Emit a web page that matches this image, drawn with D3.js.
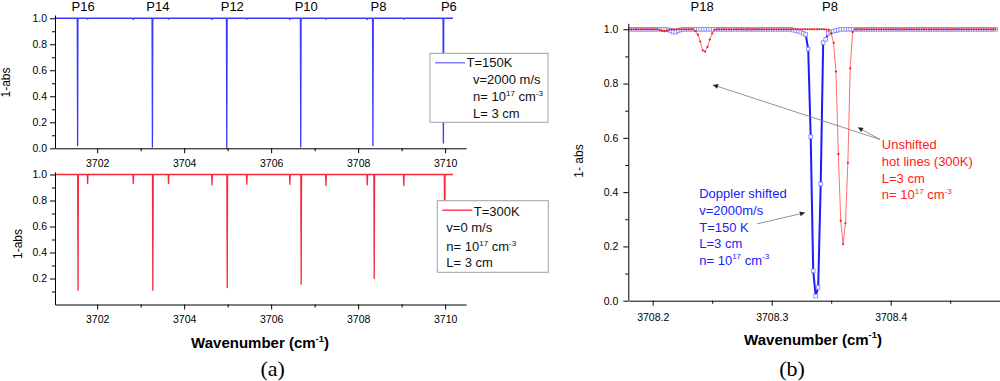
<!DOCTYPE html>
<html>
<head>
<meta charset="utf-8">
<script src="https://cdn.jsdelivr.net/npm/d3@7"></script>
<style>
  body { margin: 0; background: #fff; }
  svg { display: block; font-family: "Liberation Sans", Arial, sans-serif; }
</style>
</head>
<body>
<svg id="fig" width="1000" height="381"></svg>
<script>
// ---------- panel (a) : survey spectra ----------
const lineLabelsA = ["P16", "P14", "P12", "P10", "P8", "P6"];
const coldLineWn  = [3701.55, 3703.27, 3704.98, 3706.68, 3708.34, 3709.96];
const coldLineMin = [0.02, 0.01, 0.0, 0.01, 0.02, 0.04];
const hotMainWn   = [3701.56, 3703.28, 3704.99, 3706.69, 3708.37, 3709.99];
const hotMainMin  = [0.11, 0.11, 0.13, 0.155, 0.20, 0.30];
const hotWeakWn   = [3701.78, 3702.83, 3703.64, 3704.64, 3705.44, 3706.43, 3707.26, 3708.21, 3709.05];
const hotWeakMin  = [0.93, 0.93, 0.93, 0.92, 0.925, 0.925, 0.915, 0.92, 0.915];
const coldWeakMin = [0.993, 0.99, 0.993, 0.99, 0.993, 0.99, 0.993, 0.99, 0.993];
const traceEnds   = [3701.03, 3710.18];
const xTicksA     = [3702, 3704, 3706, 3708, 3710];
const xMinorA     = [3703, 3705, 3707, 3709];

const legendCold = ["T=150K", "v=2000 m/s", "n= 10^{17} cm^{-3}", "L= 3 cm"];
const legendHot  = ["T=300K", "v=0 m/s", "n= 10^{17} cm^{-3}", "L= 3 cm"];

// ---------- panel (b) : zoom on P8 ----------
const lineLabelsB   = ["P18", "P8"];
const lineLabelsBWn = [3708.2415, 3708.349];
// unshifted 300K trace, sampled every 0.002 cm-1 from 3708.18
const hotStart = 3708.18, hotStep = 0.002;
const hotValues = [
  1, 1, 1, 1, 1, 1, 1, 1, 1, 1, 1, 1, 1,
  0.997, 0.994, 0.993, 0.995, 0.998,
  1, 1, 1, 1, 1, 1, 1, 1, 1, 1,
  0.993, 0.98, 0.955, 0.922, 0.918, 0.935, 0.962, 0.985, 0.998,
  1, 1, 1, 1, 1, 1, 1, 1, 1, 1, 1, 1, 1, 1, 1, 1, 1, 1, 1, 1,
  1, 1, 1, 1, 1, 1, 1, 1, 1, 1, 1, 1, 1, 1, 1, 1, 1, 1, 1, 1,
  1, 1, 1, 1, 1, 1, 0.999, 0.998,
  0.985, 0.95, 0.844, 0.54, 0.295, 0.208, 0.285, 0.508, 0.856, 0.99, 1,
  1, 1, 1, 1, 1, 1, 1, 1, 1, 1, 1, 1, 1, 1, 1, 1, 1, 1, 1, 1,
  1, 1, 1, 1, 1, 1, 1, 1, 1, 1, 1, 1, 1, 1, 1, 1, 1, 1, 1, 1,
  1, 1, 1, 1, 1, 1, 1, 1, 1, 1, 1, 1, 1, 1, 1, 1, 1, 1, 1
];
// Doppler shifted 150K trace, sampled every 0.0021 cm-1
const shiftStart = 3708.18157, shiftStep = 0.0021;
const shiftValues = [
  1, 1, 1, 1, 1, 1, 1, 1, 1, 1, 1, 1, 1, 1, 1,
  0.998, 0.995, 0.99, 0.99, 0.995, 0.998,
  1, 1, 1, 1, 1, 1, 1, 1, 1, 1, 1, 1, 1, 1, 1, 1, 1, 1, 1, 1, 1, 1,
  1, 1, 1, 1, 1, 1, 1, 1, 1, 1, 1, 1, 1, 1, 1, 1, 1, 1, 1, 1, 1, 1,
  0.997, 0.995, 0.993, 0.99, 0.985, 0.981, 0.927, 0.604, 0.11, 0.017,
  0.049, 0.43, 0.951, 0.963, 0.985, 0.99, 0.993, 0.995, 0.997,
  1, 1, 1, 1, 1, 1, 1, 1, 1, 1, 1, 1, 1, 1, 1, 1, 1, 1, 1, 1, 1,
  1, 1, 1, 1, 1, 1, 1, 1, 1, 1, 1, 1, 1, 1, 1, 1, 1, 1, 1, 1, 1,
  1, 1, 1, 1, 1, 1, 1, 1, 1, 1, 1, 1, 1, 1, 1, 1, 1, 1, 1, 1, 1
];
const xTicksB = [3708.2, 3708.3, 3708.4];
const xMinorB = [3708.25, 3708.35, 3708.45];
const noteHot   = ["Unshifted", "hot lines (300K)", "L=3 cm", "n= 10^{17} cm^{-3}"];
const noteShift = ["Doppler shifted", "v=2000m/s", "T=150 K", "L=3 cm", "n= 10^{17} cm^{-3}"];

const yMajor = [0, 0.2, 0.4, 0.6, 0.8, 1.0];
const yMinor = [0.1, 0.3, 0.5, 0.7, 0.9];

const svg = d3.select("#fig");
svg.append("rect").attr("width", 1000).attr("height", 381).attr("fill", "#fff");

const FONT = "Liberation Sans, Arial, sans-serif";
const fmt1 = d3.format(".1f");

// writes "abc^{sup}def" as text with superscript tspans
function richText(sel, str, fs) {
  const parts = str.split(/\^\{([^}]*)\}/);
  parts.forEach((p, i) => {
    if (p === "") return;
    const t = sel.append("tspan").text(p);
    if (i % 2 === 1) {
      t.attr("font-size", fs * 0.62).attr("dy", -fs * 0.42);
    } else if (i > 0) {
      t.attr("dy", fs * 0.42);
    }
  });
}

function axisBottom(scale, yPix, major, minor, fmt, pad) {
  const g = svg.append("g").attr("transform", `translate(0,${yPix})`)
    .call(d3.axisBottom(scale).tickValues(major).tickFormat(fmt)
      .tickSize(5).tickSizeOuter(0).tickPadding(pad));
  g.attr("font-family", FONT).attr("font-size", 10.5);
  svg.append("g").attr("transform", `translate(0,${yPix})`)
    .call(d3.axisBottom(scale).tickValues(minor).tickFormat("").tickSize(3))
    .call(a => a.select(".domain").remove());
}

function axisLeft(scale, xPix, major, minor, pad) {
  const g = svg.append("g").attr("transform", `translate(${xPix},0)`)
    .call(d3.axisLeft(scale).tickValues(major).tickFormat(fmt1)
      .tickSize(5).tickSizeOuter(0).tickPadding(pad));
  g.attr("font-family", FONT).attr("font-size", 10.5);
  svg.append("g").attr("transform", `translate(${xPix},0)`)
    .call(d3.axisLeft(scale).tickValues(minor).tickFormat("").tickSize(3))
    .call(a => a.select(".domain").remove());
}

// narrow absorption spikes on a flat baseline of 1
function spectrum(wns, mins) {
  const hw = 0.008;
  const pts = [[traceEnds[0], 1]];
  wns.map((w, i) => ({ w: w, m: mins[i] }))
    .sort((a, b) => a.w - b.w)
    .forEach(d => { pts.push([d.w - hw, 1], [d.w, d.m], [d.w + hw, 1]); });
  pts.push([traceEnds[1], 1]);
  return pts;
}

// ================= panel (a) =================
const xA = d3.scaleLinear().domain([3701.03, 3710.48]).range([55, 466]);
const yTop = d3.scaleLinear().domain([0, 1.025]).range([148.3, 15]);
const yBot = d3.scaleLinear().domain([0, 1.02]).range([304.5, 171.9]);

const coldTrace = spectrum(coldLineWn.concat(hotWeakWn), coldLineMin.concat(coldWeakMin));
const hotTrace = spectrum(hotMainWn.concat(hotWeakWn), hotMainMin.concat(hotWeakMin));

svg.append("path").datum(coldTrace)
  .attr("d", d3.line().x(d => xA(d[0])).y(d => yTop(d[1])))
  .attr("fill", "none").attr("stroke", "#3a3aff").attr("stroke-width", 1.3)
  .attr("stroke-linejoin", "round");

svg.append("path").datum(hotTrace)
  .attr("d", d3.line().x(d => xA(d[0])).y(d => yBot(d[1])))
  .attr("fill", "none").attr("stroke", "#f5283a").attr("stroke-width", 1.3)
  .attr("stroke-linejoin", "round");

axisLeft(yTop, 55, yMajor, yMinor, 3);
axisBottom(xA, 148.3, xTicksA, xMinorA, d3.format("d"), 6);
axisLeft(yBot, 55, yMajor.slice(1), yMinor, 3);
axisBottom(xA, 304.5, xTicksA, xMinorA, d3.format("d"), 6);

svg.selectAll(".lblA").data(lineLabelsA).join("text")
  .attr("class", "lblA")
  .attr("x", (d, i) => xA(coldLineWn[i]) + 5.5).attr("y", 11)
  .attr("text-anchor", "middle").attr("font-size", 13).text(d => d);

// legends
function legend(x0, y0, w, h, color, lines, indent, baselines) {
  const g = svg.append("g");
  g.append("rect").attr("x", x0).attr("y", y0).attr("width", w).attr("height", h)
    .attr("fill", "#fff").attr("stroke", "#a0a0a0").attr("stroke-width", 1);
  g.append("line").attr("x1", x0 + 5).attr("x2", x0 + 35)
    .attr("y1", y0 + 9.5).attr("y2", y0 + 9.5)
    .attr("stroke", color).attr("stroke-width", 1.3);
  lines.forEach((s, i) => {
    const t = g.append("text").attr("x", i === 0 ? x0 + 36.5 : x0 + indent)
      .attr("y", y0 + baselines[i]).attr("font-size", 13).attr("fill", "#111");
    richText(t, s, 13);
  });
}
legend(430, 53.3, 118, 69, "#6a6aff", legendCold, 43, [13.5, 31, 48, 64.5]);
legend(437.3, 200.7, 111, 71.6, "#f5283a", legendHot, 9, [15.5, 31.5, 50.5, 66.5]);

svg.append("text").attr("transform", "translate(10,82.5) rotate(-90)")
  .attr("text-anchor", "middle").attr("font-size", 12).text("1-abs");
svg.append("text").attr("transform", "translate(21.5,244) rotate(-90)")
  .attr("text-anchor", "middle").attr("font-size", 12).text("1-abs");

const titleA = svg.append("text").attr("x", 260).attr("y", 348)
  .attr("text-anchor", "middle").attr("font-size", 15).attr("font-weight", "bold");
richText(titleA, "Wavenumber (cm^{-1})", 15);

svg.append("text").attr("x", 272.7).attr("y", 376).attr("text-anchor", "middle")
  .attr("font-family", "Liberation Serif, Times New Roman, serif").attr("font-size", 22)
  .text("(a)");

// ================= panel (b) =================
const xB = d3.scaleLinear().domain([3708.18, 3708.5]).range([628.9, 1009.7]);
const yB = d3.scaleLinear().domain([0, 1.022]).range([300.7, 23.3]);

const hotPts = hotValues.map((v, i) => [hotStart + i * hotStep, v]);
const shiftPts = shiftValues.map((v, i) => [shiftStart + i * shiftStep, v]);
const lineB = d3.line().x(d => xB(d[0])).y(d => yB(d[1]));

svg.append("path").datum(shiftPts).attr("d", lineB)
  .attr("fill", "none").attr("stroke", "#1c1cff").attr("stroke-width", 2);
svg.selectAll(".sq").data(shiftPts).join("rect").attr("class", "sq")
  .attr("x", d => xB(d[0]) - 1.8).attr("y", d => yB(d[1]) - 1.8)
  .attr("width", 3.6).attr("height", 3.6)
  .attr("fill", "#fff").attr("stroke", "#8c8cff").attr("stroke-width", 0.9);

svg.append("path").datum(hotPts).attr("d", lineB)
  .attr("fill", "none").attr("stroke", "#ff6f6f").attr("stroke-width", 1);
svg.selectAll(".dot").data(hotPts).join("circle").attr("class", "dot")
  .attr("cx", d => xB(d[0])).attr("cy", d => yB(d[1])).attr("r", 1.1)
  .attr("fill", "#ee1c1c");

axisLeft(yB, 628.3, yMajor, yMinor, 5);
axisBottom(xB, 300.7, xTicksB, xMinorB, d3.format(".1f"), 7.5);

svg.selectAll(".lblB").data(lineLabelsB).join("text")
  .attr("class", "lblB")
  .attr("x", (d, i) => xB(lineLabelsBWn[i])).attr("y", 11)
  .attr("text-anchor", "middle").attr("font-size", 13).text(d => d);

svg.append("text").attr("transform", "translate(583,161) rotate(-90)")
  .attr("text-anchor", "middle").attr("font-size", 12).text("1- abs");

const titleB = svg.append("text").attr("x", 813).attr("y", 344.5)
  .attr("text-anchor", "middle").attr("font-size", 15).attr("font-weight", "bold");
richText(titleB, "Wavenumber (cm^{-1})", 15);

svg.append("text").attr("x", 792).attr("y", 376).attr("text-anchor", "middle")
  .attr("font-family", "Liberation Serif, Times New Roman, serif").attr("font-size", 22)
  .text("(b)");

// annotations
svg.append("defs").append("marker").attr("id", "head")
  .attr("viewBox", "0 0 10 10").attr("refX", 10).attr("refY", 5)
  .attr("markerWidth", 8).attr("markerHeight", 5).attr("markerUnits", "userSpaceOnUse")
  .attr("orient", "auto")
  .append("path").attr("d", "M0,0L10,5L0,10Z").attr("fill", "#222");

function arrow(w0, v0, w1, v1) {
  svg.append("line")
    .attr("x1", xB(w0)).attr("y1", yB(v0)).attr("x2", xB(w1)).attr("y2", yB(v1))
    .attr("stroke", "#777").attr("stroke-width", 0.8).attr("marker-end", "url(#head)");
}
arrow(3708.391, 0.594, 3708.2507, 0.795);
arrow(3708.391, 0.594, 3708.3725, 0.638);
arrow(3708.2876, 0.283, 3708.3279, 0.324);

function note(lines, w, v, color, step) {
  lines.forEach((s, i) => {
    const t = svg.append("text").attr("x", xB(w)).attr("y", yB(v) + i * step)
      .attr("font-size", 13).attr("fill", color);
    richText(t, s, 13);
  });
}
note(noteHot, 3708.3925, 0.559, "#ff2020", 16.8);
note(noteShift, 3708.2391, 0.378, "#2020ff", 16.7);
</script>
</body>
</html>
